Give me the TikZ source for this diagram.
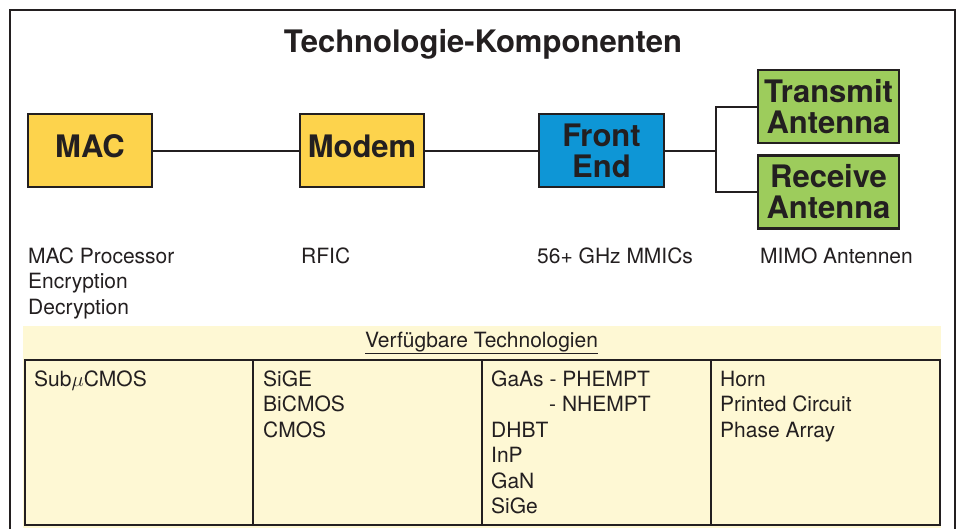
\documentclass[tikz,border=0pt]{standalone}
\usepackage{fontspec}
\setmainfont{TeX Gyre Heros}
\definecolor{macyel}{HTML}{FDD34C}
\definecolor{feblue}{HTML}{0E96D6}
\definecolor{antgreen}{HTML}{9DCC5C}
\definecolor{band}{HTML}{FEF8D4}
\definecolor{ink}{HTML}{231F20}
\begin{document}
\begin{tikzpicture}[x=1pt,y=-1pt,
  compbox/.style={draw=ink,line width=2.5pt,inner sep=0pt,align=center,
    font=\fontsize{31}{33}\selectfont\bfseries,text=ink},
  lbl/.style={anchor=base west,inner sep=0pt,align=left,
    font=\fontsize{21}{25.5}\selectfont,text=ink},
  conn/.style={draw=ink,line width=2pt}]
\useasboundingbox (0,0) rectangle (960,528);
\fill[white] (0,0) rectangle (960,528);
\draw[ink,line width=2.5pt] (10,530) -- (10,10) -- (955,10) -- (955,530);
\node[anchor=base,inner sep=0pt,font=\fontsize{31}{33}\selectfont\bfseries,text=ink] (title) at (483,52) {Technologie-Komponenten};
% component boxes
\node[compbox,fill=macyel,minimum width=124pt,minimum height=73pt,text depth=9pt] (mac) at (90,150.5) {MAC};
\node[compbox,fill=macyel,minimum width=124pt,minimum height=73pt,text depth=9pt] (modem) at (362,150.5) {Modem};
\node[compbox,fill=feblue,minimum width=125pt,minimum height=73pt] (fe) at (601.5,150.5) {Front\\[-2pt]End};
\node[compbox,fill=antgreen,minimum width=141pt,minimum height=73pt] (tx) at (828.5,106.5) {Transmit\\[-2pt]Antenna};
\node[compbox,fill=antgreen,minimum width=141pt,minimum height=73pt] (rx) at (828.5,192) {Receive\\[-2pt]Antenna};
\coordinate (br) at (716,150.5);
\draw[conn] (mac.east) -- (modem.west);
\draw[conn] (modem.east) -- (fe.west);
\draw[conn] (fe.east) -- (br);
\draw[conn] (tx.west) -| (br) |- (rx.west);
% labels (anchor = baseline of last line)
\node[lbl] (l1) at (28,314) {MAC Processor\\Encryption\\Decryption};
\node[lbl] (l2) at (301,263) {RFIC};
\node[lbl] (l3) at (537,263) {56+ GHz MMICs};
\node[lbl] (l4) at (760,263) {MIMO Antennen};
% technology band
\fill[band] (23,326) rectangle (941,528);
\node[anchor=base,inner sep=0pt,font=\fontsize{21}{25.5}\selectfont,text=ink] (vt) at (481.5,347) {\underline{Verfügbare Technologien}};
\draw[ink,line width=2.5pt] (25,360) rectangle (940,525);
\draw[ink,line width=2.5pt] (253,360) -- (253,525);
\draw[ink,line width=2.5pt] (482,360) -- (482,525);
\draw[ink,line width=2.5pt] (711,360) -- (711,525);
\node[lbl] (c1) at (34,386) {Sub$\mu$CMOS};
\node[lbl] (c2) at (263,437) {SiGE\\BiCMOS\\CMOS};
\node[lbl] (c3) at (491,513.5) {GaAs - PHEMPT\\\hspace*{58pt}- NHEMPT\\DHBT\\InP\\GaN\\SiGe};
\node[lbl] (c4) at (720,437) {Horn\\Printed Circuit\\Phase Array};
\end{tikzpicture}
\end{document}
